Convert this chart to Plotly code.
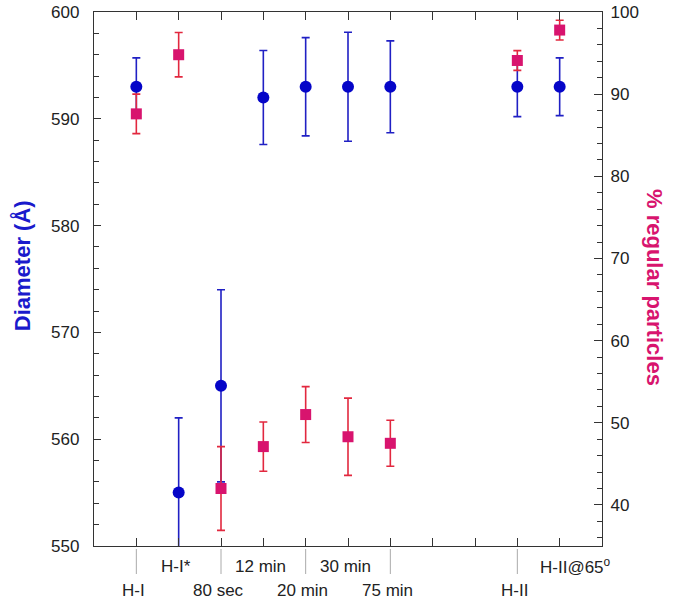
import plotly.graph_objects as go

# categories along the bottom (x index keeps the gap before H-II)
categories = ["H-I", "H-I*", "80 sec", "12 min", "20 min", "30 min", "75 min",
              "H-II", "H-II@65<sup>o</sup>"]
x_index = [0, 1, 2, 3, 4, 5, 6, 9, 10]
lower_row = [True, False, True, False, True, False, True, True, False]

# diameter (left axis)
diameter = [593, 555, 565, 592, 593, 593, 593, 593, 593]
diameter_err = [2.7, 7.0, 9.0, 4.4, 4.6, 5.1, 4.3, 2.8, 2.7]

# % regular particles (right axis)
regular = [87.6, 94.8, 42.0, 47.1, 51.0, 48.3, 47.5, 94.1, 97.8]
regular_err = [2.4, 2.7, 5.1, 3.0, 3.4, 4.7, 2.8, 1.2, 1.2]

BLUE = "#0505c8"
PINK = "#d8146e"
RED = "#e2283f"
AXIS = "#333333"
FONT = "Liberation Sans, Arial, sans-serif"

fig = go.Figure()
fig.add_trace(go.Scatter(
    x=x_index, y=diameter, mode="markers",
    marker=dict(symbol="circle", size=12, color=BLUE),
    error_y=dict(type="data", array=diameter_err, color="#2020c4",
                 thickness=1.6, width=4),
    showlegend=False,
))
fig.add_trace(go.Scatter(
    x=x_index, y=regular, mode="markers", yaxis="y2",
    marker=dict(symbol="square", size=11, color=PINK),
    error_y=dict(type="data", array=regular_err, color=RED,
                 thickness=1.6, width=4),
    showlegend=False,
))

# staggered category labels with grey leader lines for the lower row
for x, name, low in zip(x_index, categories, lower_row):
    shift = 16 if "@" in name else -3
    fig.add_annotation(x=x, y=0, xref="x", yref="paper", text=name,
                       showarrow=False, xanchor="center", yanchor="middle",
                       xshift=shift, yshift=-44 if low else -20,
                       font=dict(family=FONT, size=17, color="#222"))
    if low:
        fig.add_shape(type="line", xref="x", yref="paper", x0=x, x1=x,
                      ysizemode="pixel", yanchor=0, y0=-3, y1=-28,
                      line=dict(color="#aaaaaa", width=1))

# axis titles
fig.add_annotation(x=0, y=0.524, xref="paper", yref="paper", xshift=-72,
                   xanchor="center", yanchor="middle",
                   text="<b>Diameter (Å)</b>", textangle=-90, showarrow=False,
                   font=dict(family=FONT, size=22, color="#1a1acc"))
fig.add_annotation(x=1, y=0.485, xref="paper", yref="paper", xshift=53,
                   xanchor="center", yanchor="middle",
                   text="<b>% regular particles</b>", textangle=90,
                   showarrow=False,
                   font=dict(family=FONT, size=22, color=PINK))

fig.update_layout(
    width=683, height=600,
    margin=dict(l=94, r=81, t=12, b=54),
    plot_bgcolor="white", paper_bgcolor="white",
    font=dict(family=FONT, size=17, color="#222"),
    xaxis=dict(range=[-1, 11], tick0=0, dtick=1, ticks="inside", ticklen=8,
               tickcolor=AXIS, showticklabels=False, showline=True,
               linecolor=AXIS, linewidth=1.3, mirror="ticks",
               showgrid=False, zeroline=False, automargin=False),
    yaxis=dict(range=[550, 600], dtick=10, ticks="inside", ticklen=7,
               tickcolor=AXIS, showline=True, linecolor=AXIS, linewidth=1.3,
               showgrid=False, zeroline=False, automargin=False,
               ticklabeloverflow="allow", ticklabelstandoff=10,
               minor=dict(ticks="inside", dtick=2, ticklen=5, tickcolor=AXIS)),
    yaxis2=dict(range=[35, 100], dtick=10, tick0=0, overlaying="y",
                side="right", ticks="inside", ticklen=8, tickcolor=AXIS,
                showline=True, linecolor=AXIS, linewidth=1.3,
                showgrid=False, zeroline=False, automargin=False,
                ticklabeloverflow="allow", ticklabelstandoff=4,
                minor=dict(ticks="inside", dtick=2, ticklen=5, tickcolor=AXIS)),
)

# drop the default 8px body margin so the figure sits at the page corner
fig.write_html("out.html", config={"displayModeBar": False},
               post_script="document.body.style.margin = '0';")
